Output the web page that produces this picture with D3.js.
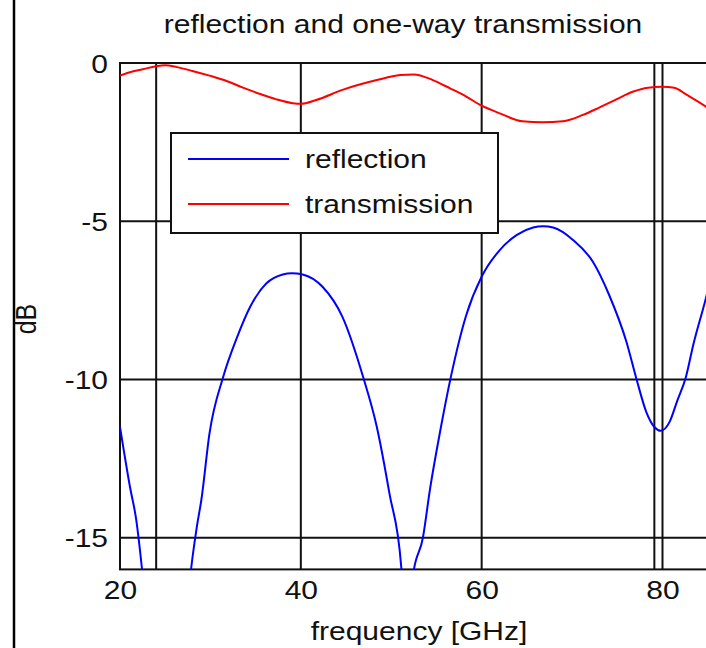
<!DOCTYPE html>
<html>
<head>
<meta charset="utf-8">
<script src="https://cdn.jsdelivr.net/npm/d3@7"></script>
<style>
  body { margin: 0; background: white; }
  text { font-family: "Liberation Sans", Arial, sans-serif; fill: #111; }
</style>
</head>
<body>
<div id="vis"></div>
<script>
var width = 706;
var height = 648;

// data
var transFreq = [20, 21.1, 22.5, 24, 25, 26.3, 28, 29.9, 31.8, 33.6, 35.5, 37.3, 39.1, 40, 41.7, 44.6, 48.4, 51, 52.5, 54.6, 56.5, 58.3, 60, 62, 64.5, 66.7, 69, 71.2, 73, 74.9, 76.7, 78.4, 80, 81.3, 82.7, 84.8, 85];
var transDb = [-0.40, -0.29, -0.2, -0.1, -0.07, -0.13, -0.25, -0.4, -0.57, -0.78, -0.98, -1.15, -1.27, -1.29, -1.17, -0.85, -0.54, -0.38, -0.36, -0.54, -0.8, -1.06, -1.35, -1.59, -1.84, -1.87, -1.84, -1.64, -1.41, -1.15, -0.91, -0.78, -0.75, -0.78, -1.01, -1.38, -1.42];

var reflFreq = [20, 21.1, 21.8, 22.4, 23.5, 25.2, 26.8, 27.9, 28.5, 29.0, 29.9, 31.4, 32.9, 34.4, 36.2, 38, 39, 40.2, 42.4, 44.6, 46.9, 48.4, 49.8, 51.1, 51.6, 51.9, 52.4, 53.5, 54.3, 55.4, 56.6, 58.3, 60, 62, 63.9, 65.7, 66.8, 67.9, 70.1, 72.3, 74.1, 76, 77.1, 78.2, 79.1, 79.8, 80.8, 81.6, 82.6, 83.4, 84.8, 85];
var reflDb = [-11.5, -13.39, -14.44, -15.9, -19.5, -28, -19.5, -15.9, -14.65, -13.8, -11.7, -9.93, -8.7, -7.7, -6.96, -6.68, -6.64, -6.68, -7.07, -8.02, -9.93, -11.49, -13.6, -15.9, -19, -19, -16.2, -15, -13.44, -11.65, -9.91, -7.96, -6.75, -5.91, -5.43, -5.2, -5.16, -5.2, -5.59, -6.28, -7.33, -8.8, -9.96, -11.02, -11.5, -11.62, -11.33, -10.7, -9.91, -8.91, -7.43, -7.2];

var xTicks = [20, 40, 60, 80];
var yTicks = [0, -5, -10, -15];
var markerFreq = [24, 79.1];
var legendLabels = ["reflection", "transmission"];
var legendColors = ["#0000ff", "#ff0000"];

var stretch = 1.2;

var svg = d3.select("#vis")
  .append("svg")
  .attr("width", width)
  .attr("height", height)
  .style("background-color", "white");

var x = d3.scaleLinear().domain([20, 85]).range([120, 707.7]);
var y = d3.scaleLinear().domain([-16, 0]).range([569.4, 63]);

// figure left border
svg.append("line")
  .attr("x1", 14).attr("x2", 14)
  .attr("y1", 0).attr("y2", height)
  .attr("stroke", "black")
  .attr("stroke-width", 2.5);

svg.append("clipPath").attr("id", "plotclip")
  .append("rect")
  .attr("x", x(20)).attr("y", y(0))
  .attr("width", x(85) - x(20)).attr("height", y(-16) - y(0));

// grid
var grid = svg.append("g").attr("class", "grid");
grid.selectAll(".vgrid")
  .data(xTicks.concat(markerFreq))
  .join("line")
  .attr("x1", d => x(d)).attr("x2", d => x(d))
  .attr("y1", y(0)).attr("y2", y(-16))
  .attr("stroke", "#111")
  .attr("stroke-width", 2);
grid.selectAll(".hgrid")
  .data(yTicks)
  .join("line")
  .attr("x1", x(20)).attr("x2", x(85))
  .attr("y1", d => y(d)).attr("y2", d => y(d))
  .attr("stroke", "#111")
  .attr("stroke-width", 2);

// frame
svg.append("rect")
  .attr("x", x(20)).attr("y", y(0))
  .attr("width", x(85) - x(20)).attr("height", y(-16) - y(0))
  .attr("fill", "none")
  .attr("stroke", "#111")
  .attr("stroke-width", 2);

// axes (labels only), plain hyphen for negatives
var yAxis = svg.append("g")
  .attr("transform", `translate(${x(20)},0)`)
  .call(d3.axisLeft(y).tickValues(yTicks).tickSize(0).tickPadding(0).tickFormat(d => String(d)));
yAxis.select(".domain").remove();
yAxis.selectAll("text")
  .attr("x", -10)
  .attr("dy", "0.36em")
  .attr("transform", `scale(${stretch},1)`)
  .style("font-size", "25px")
  .style("font-family", "'Liberation Sans', Arial, sans-serif")
  .attr("fill", "#111");

var xAxis = svg.append("g")
  .attr("transform", `translate(0,${y(-16)})`)
  .call(d3.axisBottom(x).tickValues(xTicks).tickSize(0).tickPadding(0).tickFormat(d => String(d)));
xAxis.select(".domain").remove();
xAxis.selectAll("text")
  .attr("y", 30)
  .attr("dy", 0)
  .attr("transform", `scale(${stretch},1)`)
  .style("font-size", "25px")
  .style("font-family", "'Liberation Sans', Arial, sans-serif")
  .attr("fill", "#111");

// curves
var line = d3.line().curve(d3.curveMonotoneX);
var curves = svg.append("g").attr("clip-path", "url(#plotclip)");
curves.append("path")
  .attr("d", line(transFreq.map((f, i) => [x(f), y(transDb[i])])))
  .attr("fill", "none")
  .attr("stroke", legendColors[1])
  .attr("stroke-width", 2);
curves.append("path")
  .attr("d", line(reflFreq.map((f, i) => [x(f), y(reflDb[i])])))
  .attr("fill", "none")
  .attr("stroke", legendColors[0])
  .attr("stroke-width", 2);

// legend
var legend = svg.append("g").attr("transform", "translate(171,133)");
legend.append("rect")
  .attr("width", 327).attr("height", 100)
  .attr("fill", "white")
  .attr("stroke", "#111")
  .attr("stroke-width", 2);
var items = legend.selectAll(".item")
  .data(legendLabels)
  .join("g")
  .attr("transform", (d, i) => `translate(0,${26 + i * 45})`);
items.append("line")
  .attr("x1", 17).attr("x2", 118)
  .attr("stroke", (d, i) => legendColors[i])
  .attr("stroke-width", 2);
items.append("text")
  .attr("transform", `translate(134,9) scale(${stretch},1)`)
  .style("font-size", "25px")
  .text(d => d);

// titles
svg.append("text")
  .attr("transform", `translate(403,33) scale(${stretch},1)`)
  .attr("text-anchor", "middle")
  .style("font-size", "25px")
  .text("reflection and one-way transmission");

svg.append("text")
  .attr("transform", `translate(419,640) scale(${stretch},1)`)
  .attr("text-anchor", "middle")
  .style("font-size", "25px")
  .text("frequency [GHz]");

svg.append("text")
  .attr("transform", `translate(36,319) scale(${stretch},1) rotate(-90)`)
  .attr("text-anchor", "middle")
  .style("font-size", "25px")
  .text("dB");
</script>
</body>
</html>
